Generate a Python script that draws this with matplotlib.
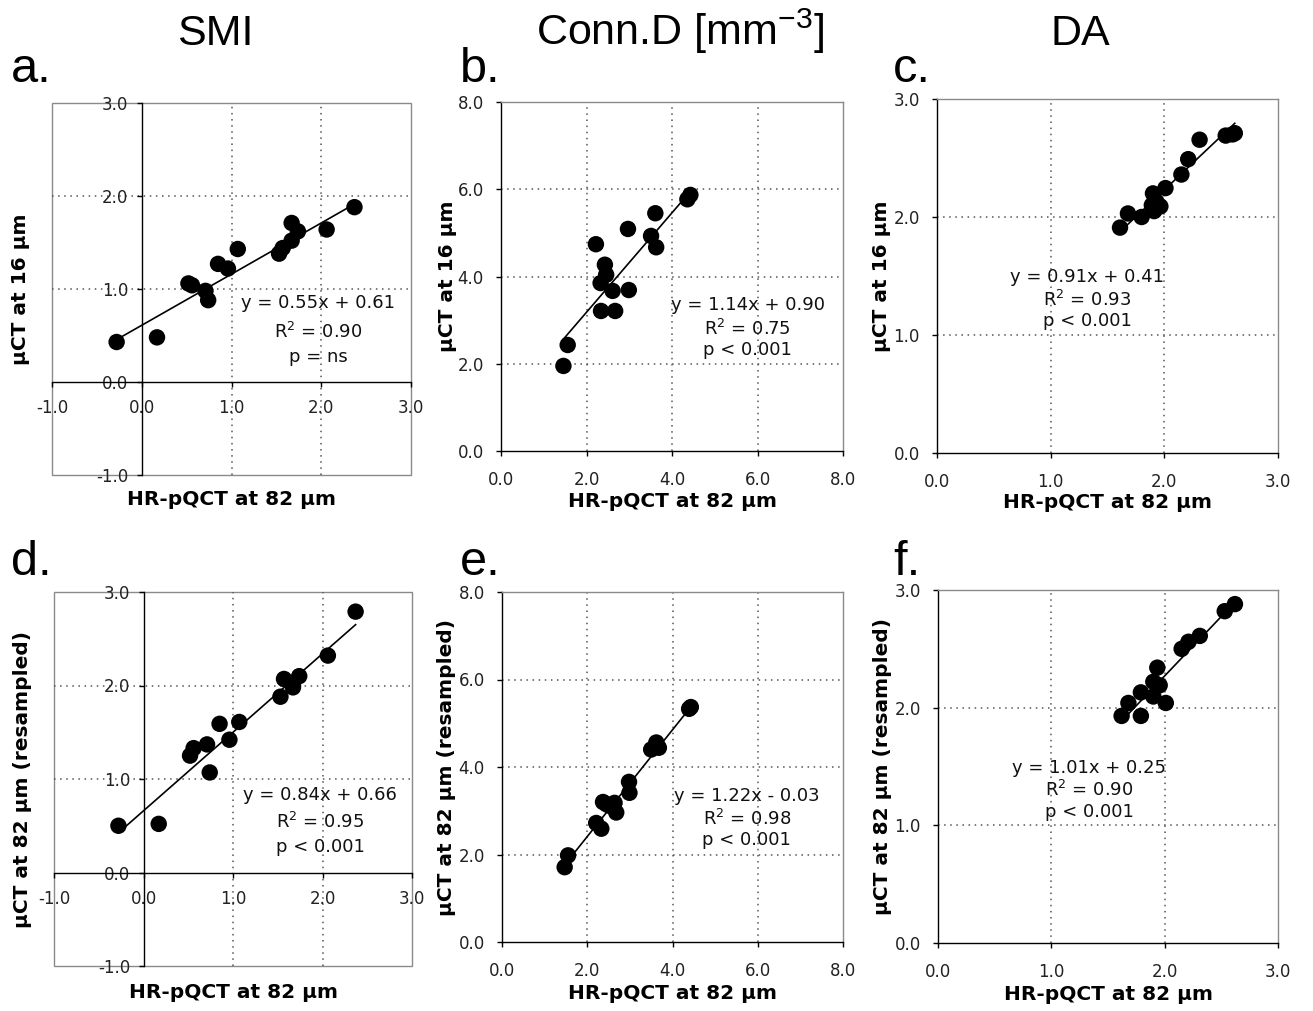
import matplotlib
matplotlib.use("Agg")
import matplotlib.pyplot as plt
from matplotlib.patches import Rectangle
import numpy as np

# ---------------- data ----------------
col_titles = ["SMI", r"Conn.D [mm$^{\mathregular{-3}}$]", "DA"]
panel_letters = ["a.", "b.", "c.", "d.", "e.", "f."]
xlabel_all = "HR-pQCT at 82 μm"
ylabel_top = "μCT at 16 μm"
ylabel_bottom = "μCT at 82 μm (resampled)"

# SMI
smi_a_x = [-0.28, 0.17, 0.52, 0.56, 0.71, 0.74, 0.85, 0.96, 1.07, 1.53, 1.57, 1.67, 1.67, 1.74, 2.06, 2.37]
smi_a_y = [0.43, 0.48, 1.06, 1.04, 0.98, 0.88, 1.27, 1.22, 1.43, 1.38, 1.44, 1.52, 1.71, 1.62, 1.64, 1.88]
smi_d_x = [-0.28, 0.17, 0.52, 0.56, 0.71, 0.74, 0.85, 0.96, 1.07, 1.53, 1.57, 1.67, 1.67, 1.74, 2.06, 2.37]
smi_d_y = [0.50, 0.52, 1.25, 1.33, 1.37, 1.07, 1.59, 1.42, 1.61, 1.88, 2.07, 2.00, 1.98, 2.10, 2.32, 2.79]

# Conn.D
conn_b_x = [1.46, 1.56, 2.22, 2.33, 2.34, 2.43, 2.46, 2.61, 2.67, 2.97, 2.99, 3.51, 3.61, 3.63, 4.36, 4.43]
conn_b_y = [1.95, 2.43, 4.74, 3.85, 3.21, 4.27, 4.04, 3.67, 3.21, 5.09, 3.69, 4.93, 5.45, 4.67, 5.77, 5.87]
conn_e_x = [1.47, 1.55, 2.21, 2.33, 2.37, 2.45, 2.53, 2.64, 2.68, 2.98, 2.99, 3.50, 3.62, 3.68, 4.39, 4.43]
conn_e_y = [1.71, 1.98, 2.72, 2.59, 3.20, 3.15, 3.11, 3.18, 2.96, 3.66, 3.41, 4.40, 4.56, 4.44, 5.33, 5.37]

# DA
da_c_x = [1.61, 1.68, 1.80, 1.89, 1.90, 1.91, 1.93, 1.965, 2.01, 2.15, 2.21, 2.31, 2.54, 2.60, 2.62]
da_c_y = [1.91, 2.03, 2.00, 2.10, 2.20, 2.05, 2.13, 2.09, 2.245, 2.36, 2.49, 2.655, 2.69, 2.70, 2.71]
da_f_x = [1.62, 1.68, 1.79, 1.79, 1.90, 1.90, 1.935, 1.956, 2.01, 2.15, 2.21, 2.31, 2.53, 2.62]
da_f_y = [1.93, 2.04, 1.93, 2.13, 2.22, 2.095, 2.34, 2.19, 2.04, 2.50, 2.56, 2.61, 2.82, 2.88]

# regression: slope, intercept, equation text lines
fits = {
    "a": (0.55, 0.61, ["y = 0.55x + 0.61", "R$^2$ = 0.90", "p = ns"]),
    "b": (1.14, 0.90, ["y = 1.14x + 0.90", "R$^2$ = 0.75", "p < 0.001"]),
    "c": (0.91, 0.41, ["y = 0.91x + 0.41", "R$^2$ = 0.93", "p < 0.001"]),
    "d": (0.84, 0.66, ["y = 0.84x + 0.66", "R$^2$ = 0.95", "p < 0.001"]),
    "e": (1.22, -0.03, ["y = 1.22x - 0.03", "R$^2$ = 0.98", "p < 0.001"]),
    "f": (1.01, 0.25, ["y = 1.01x + 0.25", "R$^2$ = 0.90", "p < 0.001"]),
}

smi_ticks = [-1.0, 0.0, 1.0, 2.0, 3.0]
conn_ticks = [0.0, 2.0, 4.0, 6.0, 8.0]
da_ticks = [0.0, 1.0, 2.0, 3.0]

# ---------------- layout (pixels: left, top, right, bottom) ----------------
W, H = 1313, 1011
boxes = {
    "a": (52, 103, 411, 475),
    "b": (501, 102, 843, 451),
    "c": (937, 99, 1278, 453),
    "d": (54, 592, 412, 966),
    "e": (502, 592, 843, 942),
    "f": (938, 590, 1278, 943),
}
# text positions (axes fraction): center x, line y's
eq_pos = {
    "a": (0.741, [0.462, 0.384, 0.317]),
    "b": (0.722, [0.418, 0.350, 0.289]),
    "c": (0.440, [0.497, 0.432, 0.373]),
    "d": (0.743, [0.457, 0.385, 0.318]),
    "e": (0.718, [0.417, 0.351, 0.291]),
    "f": (0.444, [0.496, 0.433, 0.371]),
}
ylab_pos = {"a": -0.089, "b": -0.155, "c": -0.163, "d": -0.089, "e": -0.162, "f": -0.164}
xlab_pos = {"a": -0.067, "b": -0.146, "c": -0.141, "d": -0.072, "e": -0.146, "f": -0.147}

fig = plt.figure(figsize=(W / 100, H / 100), dpi=100)

GRID_C = "#555555"
FRAME_C = "#8a8a8a"
TICK_FS = 12
LAB_FS = 14.5
EQ_FS = 13


def make_ax(key):
    l, t, r, b = boxes[key]
    return fig.add_axes([l / W, 1 - b / H, (r - l) / W, (b - t) / H])


def style_common(ax, key, ticks, ylabel, zero_axes=False):
    lim = (ticks[0], ticks[-1])
    ax.set_xlim(*lim)
    ax.set_ylim(*lim)
    ax.set_xticks(ticks)
    ax.set_yticks(ticks)
    ax.set_xticklabels([f"{v:.1f}" for v in ticks])
    ax.set_yticklabels([f"{v:.1f}" for v in ticks])
    inner = [v for v in ticks if v not in (ticks[0], ticks[-1]) and not (zero_axes and v == 0)]
    for v in inner:
        ax.axvline(v, color=GRID_C, lw=1.1, ls=(0, (1, 3)), zorder=1)
        ax.axhline(v, color=GRID_C, lw=1.1, ls=(0, (1, 3)), zorder=1)
    if zero_axes:
        ax.spines["left"].set_position(("data", 0))
        ax.spines["bottom"].set_position(("data", 0))
        for s in ("top", "right"):
            ax.spines[s].set_visible(False)
        ax.add_patch(Rectangle((0, 0), 1, 1, transform=ax.transAxes, fill=False,
                               edgecolor=FRAME_C, lw=1.0, zorder=0, clip_on=False))
        ax.tick_params(axis="x", pad=9)
        ax.tick_params(axis="y", pad=6)
    else:
        for s in ("top", "right"):
            ax.spines[s].set_color(FRAME_C)
        ax.tick_params(axis="x", pad=11)
        ax.tick_params(axis="y", pad=9)
    for s in ("left", "bottom"):
        ax.spines[s].set_color("black")
        ax.spines[s].set_linewidth(1.0)
    for s in ("top", "right"):
        ax.spines[s].set_linewidth(1.0)
    ax.tick_params(direction="out", length=3.5, width=1.0, labelsize=TICK_FS,
                   colors="black", labelcolor="#222222")
    ax.set_xlabel(xlabel_all, fontsize=LAB_FS, fontweight="bold", va="center")
    ax.set_ylabel(ylabel, fontsize=LAB_FS, fontweight="bold", va="center")
    ax.xaxis.set_label_coords(0.5, xlab_pos[key])
    ax.yaxis.set_label_coords(ylab_pos[key], 0.5)


def draw(key, xs, ys, ticks, ylabel, zero_axes=False):
    ax = make_ax(key)
    style_common(ax, key, ticks, ylabel, zero_axes)
    xs = np.asarray(xs)
    ys = np.asarray(ys)
    ax.scatter(xs, ys, s=140, color="black", edgecolors="none", zorder=3, clip_on=False)
    m, c, lines = fits[key]
    xx = np.array([xs.min(), xs.max()])
    ax.plot(xx, m * xx + c, color="black", lw=1.2, zorder=4)
    cx, ylist = eq_pos[key]
    for txt, yy in zip(lines, ylist):
        ax.text(cx, yy, txt, transform=ax.transAxes, ha="center", va="center",
                fontsize=EQ_FS, color="#111111", zorder=5)
    return ax


draw("a", smi_a_x, smi_a_y, smi_ticks, ylabel_top, zero_axes=True)
draw("b", conn_b_x, conn_b_y, conn_ticks, ylabel_top)
draw("c", da_c_x, da_c_y, da_ticks, ylabel_top)
draw("d", smi_d_x, smi_d_y, smi_ticks, ylabel_bottom, zero_axes=True)
draw("e", conn_e_x, conn_e_y, conn_ticks, ylabel_bottom)
draw("f", da_f_x, da_f_y, da_ticks, ylabel_bottom)

# column titles
title_x = [215, 680, 1080]
for t, x in zip(col_titles, title_x):
    fig.text(x / W, 1 - 45 / H, t, ha="center", va="baseline", fontsize=31,
             family="Liberation Sans")

# panel letters
letter_pos = [(11, 82), (460, 82), (893, 82), (11, 575), (460, 575), (893, 575)]
for lt, (x, y) in zip(panel_letters, letter_pos):
    fig.text(x / W, 1 - y / H, lt, ha="left", va="baseline", fontsize=35,
             family="Liberation Sans")

fig.savefig("out.png", dpi=100)
